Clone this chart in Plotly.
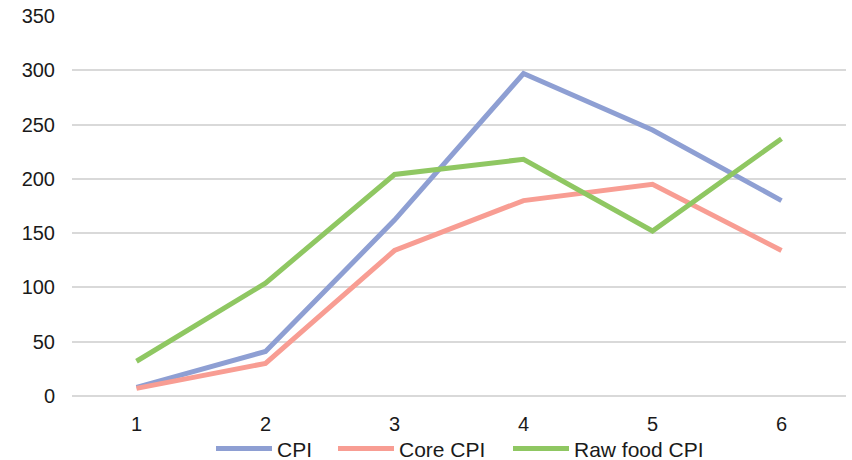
import plotly.graph_objects as go

# Index values by period
periods = ["1", "2", "3", "4", "5", "6"]
cpi = [8, 41, 162, 297, 245, 180]
core_cpi = [7, 30, 134, 180, 195, 134]
raw_food_cpi = [32, 104, 204, 218, 152, 237]

y_ticks = [0, 50, 100, 150, 200, 250, 300, 350]

series = [
    ("CPI", cpi, "#8E9FD3"),
    ("Core CPI", core_cpi, "#F89D93"),
    ("Raw food CPI", raw_food_cpi, "#8FC762"),
]

# left edge (container fraction) of each legend entry along the bottom row
legend_x = [211 / 852, 333 / 852, 508 / 852]
legend_ids = ["legend", "legend2", "legend3"]

font_family = "Liberation Sans, Arial, sans-serif"
font_size = 20

fig = go.Figure()
for (name, values, color), lid in zip(series, legend_ids):
    fig.add_trace(go.Scatter(
        x=periods, y=values, name=name, mode="lines", legend=lid,
        line=dict(color=color, width=5, shape="linear"),
    ))

legend_style = dict(
    orientation="h", xref="container", xanchor="left",
    yref="container", y=0.024, yanchor="middle",
    font=dict(size=21, color="#1a1a1a"), itemwidth=56,
    bgcolor="rgba(0,0,0,0)", borderwidth=0,
)

fig.update_layout(
    width=852, height=460,
    margin=dict(l=72, r=6, t=16, b=64, autoexpand=False),
    paper_bgcolor="white", plot_bgcolor="white",
    font=dict(family=font_family, size=font_size, color="#1a1a1a"),
    showlegend=True,
    legend=dict(x=legend_x[0], **legend_style),
    legend2=dict(x=legend_x[1], **legend_style),
    legend3=dict(x=legend_x[2], **legend_style),
    xaxis=dict(
        type="category", range=[-0.5, 5.5], showgrid=False, zeroline=False,
        showline=False, ticks="", tickfont=dict(size=font_size),
        ticklabelstandoff=14,
    ),
    yaxis=dict(
        range=[0, 350], tickvals=y_ticks, showgrid=True, gridcolor="#D9D9D9",
        gridwidth=1.5, zeroline=True, zerolinecolor="#D9D9D9", zerolinewidth=1.5,
        showline=False, ticks="", tickfont=dict(size=font_size),
        ticklabelstandoff=16,
    ),
)

fig.write_html("out.html")
